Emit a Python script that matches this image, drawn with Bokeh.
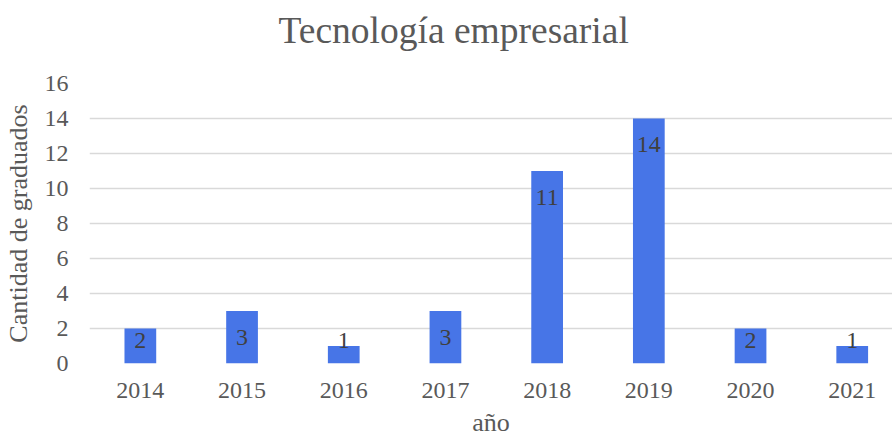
from bokeh.plotting import figure
from bokeh.models import ColumnDataSource, Range1d, FixedTicker, Title
from bokeh.core.properties import value
from bokeh.embed import file_html
from bokeh.resources import INLINE

years = [2014, 2015, 2016, 2017, 2018, 2019, 2020, 2021]
counts = [2, 3, 1, 3, 11, 14, 2, 1]
y_ticks = [0, 2, 4, 6, 8, 10, 12, 14, 16]
title_text = "Tecnología empresarial"
x_label = "año"
y_label = "Cantidad de graduados"

FONT = "Liberation Serif"
BAR = "#4775E7"

label_y = [max(c - 1.5, 1.3) for c in counts]
src = ColumnDataSource(dict(x=years, top=counts, ly=label_y, txt=[str(c) for c in counts]))

p = figure(width=892, height=440, output_backend="svg", toolbar_location=None,
           x_range=Range1d(2013.5, 2021.396), y_range=Range1d(0, 16),
           min_border_left=89, min_border_right=0, min_border_top=83, min_border_bottom=77)
p.outline_line_color = None
p.background_fill_color = "white"
p.border_fill_color = "white"

p.title.text = title_text
p.title.text_font = FONT
p.title.text_font_size = "37.5px"
p.title.text_font_style = "normal"
p.title.text_color = "#595959"
p.title.align = "left"
p.title.offset = 189
p.title.vertical_align = "top"
p.title.standoff = 12

# spacer between title and plot frame
spacer = Title(text=".", text_font=FONT, text_font_size="20px", text_color="white",
               standoff=8.5)
p.add_layout(spacer, "above")

p.vbar(x="x", top="top", bottom=0, width=0.312, source=src, fill_color=BAR, line_color=None)
p.text(x="x", y="ly", text="txt", source=src, text_align="center", text_baseline="middle",
       text_font=value(FONT), text_font_size="24px", text_color="#404040")

for ax in (p.xaxis[0], p.yaxis[0]):
    ax.axis_line_color = None
    ax.major_tick_line_color = None
    ax.minor_tick_line_color = None
    ax.major_tick_out = 0
    ax.major_tick_in = 0
    ax.minor_tick_out = 0
    ax.major_label_text_font = FONT
    ax.major_label_text_font_size = "24px"
    ax.major_label_text_color = "#595959"
    ax.axis_label_text_font = FONT
    ax.axis_label_text_font_size = "26px"
    ax.axis_label_text_font_style = "normal"
    ax.axis_label_text_color = "#595959"

p.xaxis.ticker = FixedTicker(ticks=years)
p.yaxis.ticker = FixedTicker(ticks=y_ticks)
p.xaxis.axis_label = x_label
p.yaxis.axis_label = y_label
p.xaxis.major_label_standoff = 19
p.yaxis.major_label_standoff = 21
p.xaxis.axis_label_standoff = 7
p.yaxis.axis_label_standoff = 9

p.xgrid.grid_line_color = None
p.ygrid.grid_line_color = "#D9D9D9"
p.ygrid.grid_line_width = 1.5

open("out.html", "w").write(file_html(p, INLINE))
